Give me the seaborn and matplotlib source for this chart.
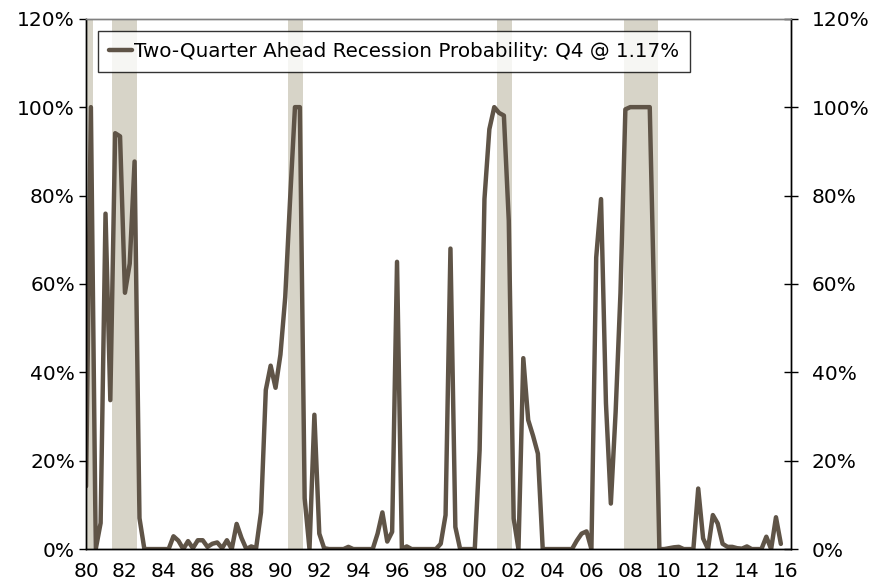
import pandas as pd
import matplotlib.pyplot as plt
import matplotlib.dates as mdates
from matplotlib.ticker import PercentFormatter
import seaborn as sns

# quarterly recession probability (%), 1980Q1 .. 2015Q4
prob = [
    14.2, 100, 0, 5.9,        # 1980
    75.9, 33.7, 94.1, 93.4,   # 1981
    58, 64.6, 87.7, 7,        # 1982
    0, 0, 0, 0,               # 1983
    0, 0, 2.9, 1.9,           # 1984
    0, 1.8, 0.2, 2.0,         # 1985
    2.0, 0.5, 1.2, 1.5,       # 1986
    0.2, 2.0, 0, 5.7,         # 1987
    2.5, 0, 0.6, 0.2,         # 1988
    8.3, 36, 41.5, 36.5,      # 1989
    44, 57, 79, 100,          # 1990
    100, 11.5, 0, 30.4,       # 1991
    3.5, 0.2, 0, 0,           # 1992
    0, 0, 0.5, 0,             # 1993
    0, 0, 0, 0,               # 1994
    3.5, 8.3, 1.7, 3.9,       # 1995
    65, 0, 0.6, 0,            # 1996
    0, 0, 0, 0,               # 1997
    0, 1.2, 7.7, 68,          # 1998
    5, 0, 0, 0,               # 1999
    0, 22.4, 79.2, 95,        # 2000
    100, 98.7, 98.1, 74.3,    # 2001
    6.9, 0, 43.2, 29.2,       # 2002
    25.6, 21.6, 0, 0,         # 2003
    0, 0, 0, 0,               # 2004
    0, 1.9, 3.5, 4.0,         # 2005
    0, 66, 79.2, 33,          # 2006
    10.3, 31, 58, 99.5,       # 2007
    100, 100, 100, 100,       # 2008
    100, 52, 0, 0,            # 2009
    0.2, 0.4, 0.5, 0,         # 2010
    0, 0, 13.7, 2.4,          # 2011
    0, 7.7, 5.8, 1.2,         # 2012
    0.5, 0.5, 0.2, 0.1,       # 2013
    0.6, 0, 0, 0,             # 2014
    2.8, 0, 7.2, 1.17,        # 2015
]
dates = pd.date_range("1980-01-01", periods=len(prob), freq="QS")

# recession shading (start, end)
rec_start = ["1979-11-01", "1981-05-10", "1990-05-25", "2001-03-01", "2007-08-30"]
rec_end = ["1980-05-15", "1982-08-15", "1991-02-25", "2001-11-25", "2009-05-30"]

label = "Two-Quarter Ahead Recession Probability: Q4 @ 1.17%"
line_col = "#5f5447"
band_col = "#d7d4c8"
fs = 14.5

df = pd.DataFrame({"date": dates, "prob": prob})

sns.set_style("white", {"text.color": "black", "xtick.color": "black",
                        "ytick.color": "black", "axes.labelcolor": "black"})
plt.rcParams["font.family"] = ["DejaVu Sans"]

fig = plt.figure(figsize=(8.78, 5.86), dpi=100)
ax = fig.add_axes([0.098, 0.063, 0.803, 0.905])

for s, e in zip(rec_start, rec_end):
    ax.axvspan(pd.Timestamp(s), pd.Timestamp(e), color=band_col, lw=0, zorder=0)

sns.lineplot(data=df, x="date", y="prob", ax=ax, color=line_col, lw=3.2, label=label)

ax.set_xlim(pd.Timestamp("1980-01-01"), pd.Timestamp("2016-04-10"))
ax.set_ylim(0, 120)
ax.set_yticks(range(0, 121, 20))
ax.yaxis.set_major_formatter(PercentFormatter(decimals=0))
ax.xaxis.set_major_locator(mdates.YearLocator(2))
ax.xaxis.set_major_formatter(mdates.DateFormatter("%y"))
ax.set_xlabel("")
ax.set_ylabel("")

ax.tick_params(axis="x", direction="inout", length=12, width=1, labelsize=fs, pad=3)
ax.tick_params(axis="y", direction="out", length=5, width=1, labelsize=fs, pad=3,
               left=True, right=False)

# right-hand axis with the same scale
ax2 = ax.twinx()
ax2.set_ylim(ax.get_ylim())
ax2.set_yticks(range(0, 121, 20))
ax2.yaxis.set_major_formatter(PercentFormatter(decimals=0))
ax2.tick_params(axis="y", direction="inout", length=10, width=1, labelsize=fs, pad=10)
ax2.grid(False)

for a in (ax, ax2):
    for side in ["left", "bottom", "right"]:
        a.spines[side].set_color("black")
        a.spines[side].set_linewidth(1)
    a.spines["top"].set_color("#808080")
    a.spines["top"].set_linewidth(1)

leg = ax.legend(loc="upper left", bbox_to_anchor=(0.017, 0.977), borderaxespad=0,
                fontsize=14.3, frameon=True, fancybox=False, handlelength=1.15,
                handletextpad=0.1, borderpad=0.55)
leg.get_frame().set_edgecolor("black")
leg.get_frame().set_linewidth(1)

fig.savefig("out.png", dpi=100)
